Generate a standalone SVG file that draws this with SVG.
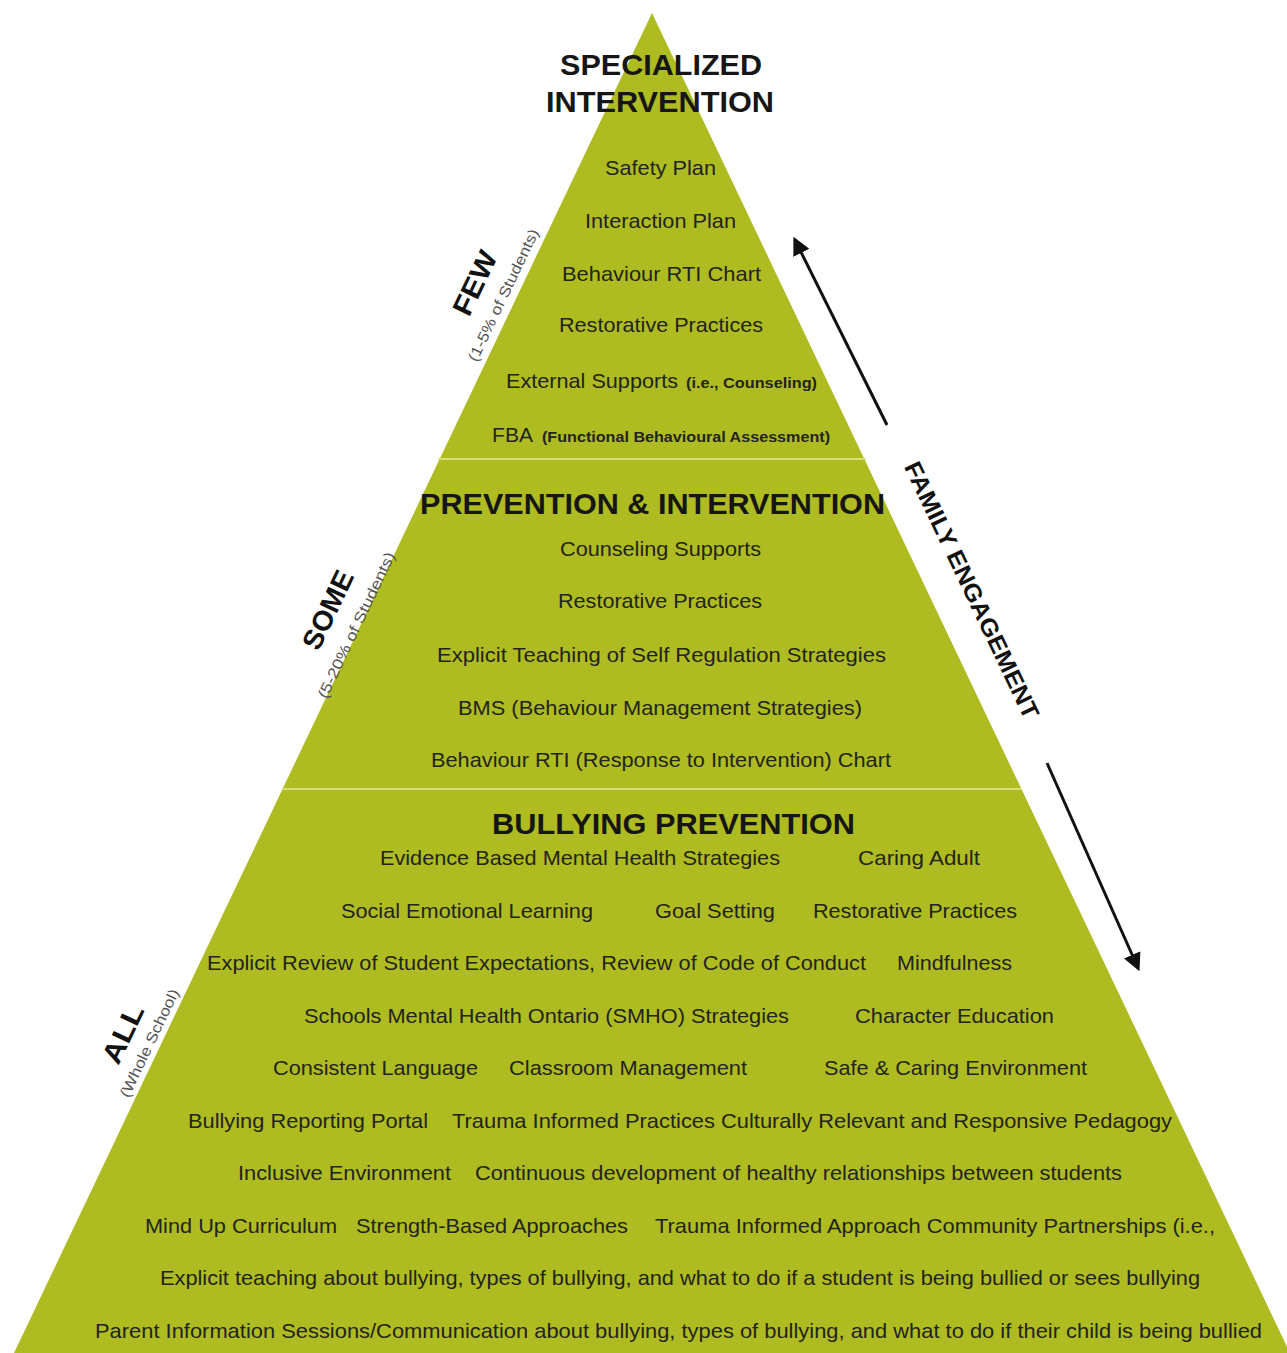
<svg xmlns="http://www.w3.org/2000/svg" width="1287" height="1353" viewBox="0 0 1287 1353">
<style>
.t{font-family:"Liberation Sans",Arial,sans-serif;font-size:21px;fill:#232320;text-anchor:middle}
.s{font-family:"Liberation Sans",Arial,sans-serif;font-size:14px;font-weight:bold;fill:#232320}
.l{font-family:"Liberation Sans",Arial,sans-serif;font-size:21px;fill:#232320}
.h{font-family:"Liberation Sans",Arial,sans-serif;font-size:30px;font-weight:bold;fill:#161616;text-anchor:middle}
.side{font-family:"Liberation Sans",Arial,sans-serif;font-size:28px;font-weight:bold;fill:#111;text-anchor:middle;dominant-baseline:central}
.sub{font-family:"Liberation Sans",Arial,sans-serif;font-size:15px;fill:#555;text-anchor:middle;dominant-baseline:central}
.div{stroke:#D6DE78;stroke-width:2}
.arr{stroke:#111;stroke-width:3;fill:none}
</style>
<defs>
<marker id="ah" viewBox="0 0 10 10" refX="8" refY="5" markerWidth="6" markerHeight="6" orient="auto" markerUnits="strokeWidth">
<path d="M0,0 L10,5 L0,10 z" fill="#111"/>
</marker>
</defs>
<rect width="1287" height="1353" fill="#ffffff"/>
<g id="pyramid">
<polygon points="652,13 1290,1353 14,1353" fill="#AEBC21"/>
<line class="div" x1="438" y1="459" x2="866" y2="459"/>
<line class="div" x1="282" y1="789" x2="1021" y2="789"/>
</g>
<g id="tier-top">
<text class="h" x="661" y="75" textLength="202" lengthAdjust="spacingAndGlyphs">SPECIALIZED</text>
<text class="h" x="660" y="112" textLength="228" lengthAdjust="spacingAndGlyphs">INTERVENTION</text>
<text class="t" x="660.5" y="175" textLength="111" lengthAdjust="spacingAndGlyphs">Safety Plan</text>
<text class="t" x="660.5" y="228" textLength="151" lengthAdjust="spacingAndGlyphs">Interaction Plan</text>
<text class="t" x="661.5" y="281" textLength="199" lengthAdjust="spacingAndGlyphs">Behaviour RTI Chart</text>
<text class="t" x="661" y="332" textLength="204" lengthAdjust="spacingAndGlyphs">Restorative Practices</text>
<text class="l" x="506" y="388" textLength="172" lengthAdjust="spacingAndGlyphs">External Supports</text>
<text class="s" x="686" y="388" textLength="131" lengthAdjust="spacingAndGlyphs">(i.e., Counseling)</text>
<text class="l" x="492" y="442" textLength="41" lengthAdjust="spacingAndGlyphs">FBA</text>
<text class="s" x="542" y="442" textLength="288" lengthAdjust="spacingAndGlyphs">(Functional Behavioural Assessment)</text>
</g>
<g id="tier-middle">
<text class="h" x="652.5" y="514" textLength="465" lengthAdjust="spacingAndGlyphs">PREVENTION &amp; INTERVENTION</text>
<text class="t" x="660.5" y="556" textLength="201" lengthAdjust="spacingAndGlyphs">Counseling Supports</text>
<text class="t" x="660" y="608" textLength="204" lengthAdjust="spacingAndGlyphs">Restorative Practices</text>
<text class="t" x="661.5" y="662" textLength="449" lengthAdjust="spacingAndGlyphs">Explicit Teaching of Self Regulation Strategies</text>
<text class="t" x="660" y="715" textLength="404" lengthAdjust="spacingAndGlyphs">BMS (Behaviour Management Strategies)</text>
<text class="t" x="661" y="767" textLength="460" lengthAdjust="spacingAndGlyphs">Behaviour RTI (Response to Intervention) Chart</text>
</g>
<g id="tier-bottom">
<text class="h" x="673.5" y="834" textLength="363" lengthAdjust="spacingAndGlyphs">BULLYING PREVENTION</text>
<text class="t" x="580" y="865" textLength="400" lengthAdjust="spacingAndGlyphs">Evidence Based Mental Health Strategies</text>
<text class="t" x="919" y="865" textLength="122" lengthAdjust="spacingAndGlyphs">Caring Adult</text>
<text class="t" x="467" y="918" textLength="252" lengthAdjust="spacingAndGlyphs">Social Emotional Learning</text>
<text class="t" x="715" y="918" textLength="120" lengthAdjust="spacingAndGlyphs">Goal Setting</text>
<text class="t" x="915" y="918" textLength="204" lengthAdjust="spacingAndGlyphs">Restorative Practices</text>
<text class="t" x="536.5" y="970" textLength="659" lengthAdjust="spacingAndGlyphs">Explicit Review of Student Expectations, Review of Code of Conduct</text>
<text class="t" x="954.5" y="970" textLength="115" lengthAdjust="spacingAndGlyphs">Mindfulness</text>
<text class="t" x="546.5" y="1023" textLength="485" lengthAdjust="spacingAndGlyphs">Schools Mental Health Ontario (SMHO) Strategies</text>
<text class="t" x="954.5" y="1023" textLength="199" lengthAdjust="spacingAndGlyphs">Character Education</text>
<text class="t" x="375.5" y="1075" textLength="205" lengthAdjust="spacingAndGlyphs">Consistent Language</text>
<text class="t" x="628" y="1075" textLength="238" lengthAdjust="spacingAndGlyphs">Classroom Management</text>
<text class="t" x="955.5" y="1075" textLength="263" lengthAdjust="spacingAndGlyphs">Safe &amp; Caring Environment</text>
<text class="t" x="308" y="1128" textLength="240" lengthAdjust="spacingAndGlyphs">Bullying Reporting Portal</text>
<text class="t" x="812" y="1128" textLength="720" lengthAdjust="spacingAndGlyphs">Trauma Informed Practices Culturally Relevant and Responsive Pedagogy</text>
<text class="t" x="344.5" y="1180" textLength="213" lengthAdjust="spacingAndGlyphs">Inclusive Environment</text>
<text class="t" x="798.5" y="1180" textLength="647" lengthAdjust="spacingAndGlyphs">Continuous development of healthy relationships between students</text>
<text class="t" x="241" y="1233" textLength="192" lengthAdjust="spacingAndGlyphs">Mind Up Curriculum</text>
<text class="t" x="492" y="1233" textLength="272" lengthAdjust="spacingAndGlyphs">Strength-Based Approaches</text>
<text class="t" x="935" y="1233" textLength="560" lengthAdjust="spacingAndGlyphs">Trauma Informed Approach Community Partnerships (i.e.,</text>
<text class="t" x="680" y="1285" textLength="1040" lengthAdjust="spacingAndGlyphs">Explicit teaching about bullying, types of bullying, and what to do if a student is being bullied or sees bullying</text>
<text class="t" x="678.5" y="1338" textLength="1167" lengthAdjust="spacingAndGlyphs">Parent Information Sessions/Communication about bullying, types of bullying, and what to do if their child is being bullied</text>
</g>
<g id="label-few">
<text class="side" transform="translate(475,283) rotate(-64.5)" textLength="68" lengthAdjust="spacingAndGlyphs">FEW</text>
<text class="sub" transform="translate(503,295) rotate(-64.5)" textLength="145" lengthAdjust="spacingAndGlyphs">(1-5% of Students)</text>
</g>
<g id="label-some">
<text class="side" transform="translate(328,610) rotate(-64.5)" textLength="84" lengthAdjust="spacingAndGlyphs">SOME</text>
<text class="sub" transform="translate(356,625) rotate(-64.5)" textLength="160" lengthAdjust="spacingAndGlyphs">(5-20% of Students)</text>
</g>
<g id="label-all">
<text class="side" transform="translate(123,1034) rotate(-64.5)" textLength="62" lengthAdjust="spacingAndGlyphs">ALL</text>
<text class="sub" transform="translate(149,1043) rotate(-64.5)" textLength="118" lengthAdjust="spacingAndGlyphs">(Whole School)</text>
</g>
<g id="label-family">
<text class="side" style="font-size:24px" transform="translate(972,590) rotate(64.5)" textLength="282" lengthAdjust="spacingAndGlyphs">FAMILY ENGAGEMENT</text>
</g>
<g id="connectors">
<line class="arr" x1="887" y1="425" x2="795" y2="240" marker-end="url(#ah)"/>
<line class="arr" x1="1047" y1="763" x2="1138" y2="968" marker-end="url(#ah)"/>
</g>
</svg>
